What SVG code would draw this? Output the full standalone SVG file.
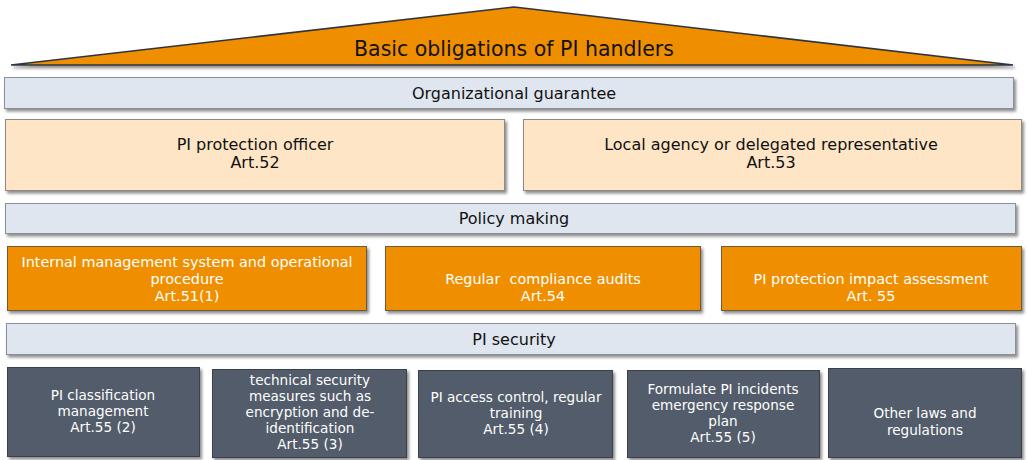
<svg xmlns="http://www.w3.org/2000/svg" width="1027" height="460" viewBox="0 0 1027 460">
  <defs>
    <filter id="shadow" x="-5%" y="-20%" width="110%" height="150%">
      <feDropShadow dx="2" dy="2.5" stdDeviation="1.5" flood-color="#000" flood-opacity="0.45"/>
    </filter>
  </defs>
  <style>
    text { font-family: "DejaVu Sans", "Liberation Sans", sans-serif; text-anchor: middle; }
    .roof { fill: #EF8F00; stroke: #2E3440; stroke-width: 1.6; filter: url(#shadow); }
    .bar { fill: #DFE6F0; stroke: #8A9098; stroke-width: 1; filter: url(#shadow); }
    .peach { fill: #FDE5C6; stroke: #8F8A80; stroke-width: 1; filter: url(#shadow); }
    .orange { fill: #EF8F00; stroke: #6B5A40; stroke-width: 1; filter: url(#shadow); }
    .slate { fill: #525C6B; stroke: #3A414B; stroke-width: 1; filter: url(#shadow); }
    .title { font-size: 20.5px; fill: #111; }
    .head { font-size: 16px; fill: #111; }
    .dark { font-size: 16px; fill: #111; }
    .light { font-size: 14.4px; fill: #fff; }
    .small { font-size: 13.6px; fill: #fff; }
  </style>

  <!-- roof -->
  <g id="roof">
    <polygon class="roof" points="11,65 514,7 1013,65"/>
    <text class="title" x="514" y="56">Basic obligations of PI handlers</text>
  </g>

  <!-- organizational guarantee -->
  <g id="org-guarantee">
    <rect class="bar" x="4.5" y="77.5" width="1009" height="31"/>
    <text class="head" x="514" y="99">Organizational guarantee</text>
  </g>
  <g id="officer">
    <rect class="peach" x="5.5" y="119.5" width="499" height="71"/>
    <text class="dark" x="255" y="150">PI protection officer</text>
    <text class="dark" x="255" y="168">Art.52</text>
  </g>
  <g id="local-agency">
    <rect class="peach" x="523.5" y="119.5" width="498" height="71"/>
    <text class="dark" x="771" y="150">Local agency or delegated representative</text>
    <text class="dark" x="771" y="168">Art.53</text>
  </g>

  <!-- policy making -->
  <g id="policy-making">
    <rect class="bar" x="5.5" y="203.5" width="1010" height="30"/>
    <text class="head" x="514" y="224">Policy making</text>
  </g>
  <g id="internal-management">
    <rect class="orange" x="7.5" y="246.5" width="359" height="64"/>
    <text class="light" x="187" y="267">Internal management system and operational</text>
    <text class="light" x="187" y="284">procedure</text>
    <text class="light" x="187" y="301">Art.51(1)</text>
  </g>
  <g id="compliance-audits">
    <rect class="orange" x="385.5" y="246.5" width="315" height="64"/>
    <text class="light" x="543" y="284" xml:space="preserve">Regular  compliance audits</text>
    <text class="light" x="543" y="301">Art.54</text>
  </g>
  <g id="impact-assessment">
    <rect class="orange" x="721.5" y="246.5" width="300" height="64"/>
    <text class="light" x="871" y="284">PI protection impact assessment</text>
    <text class="light" x="871" y="301">Art. 55</text>
  </g>

  <!-- PI security -->
  <g id="pi-security">
    <rect class="bar" x="6.5" y="323.5" width="1009" height="31"/>
    <text class="head" x="514" y="345">PI security</text>
  </g>
  <g id="classification">
    <rect class="slate" x="7.5" y="367.5" width="192" height="89"/>
    <text class="small" x="103" y="400">PI classification</text>
    <text class="small" x="103" y="416">management</text>
    <text class="small" x="103" y="432">Art.55 (2)</text>
  </g>
  <g id="technical-measures">
    <rect class="slate" x="212.5" y="369.5" width="194" height="88"/>
    <text class="small" x="310" y="385">technical security</text>
    <text class="small" x="310" y="401">measures such as</text>
    <text class="small" x="310" y="417">encryption and de-</text>
    <text class="small" x="310" y="433">identification</text>
    <text class="small" x="310" y="449">Art.55 (3)</text>
  </g>
  <g id="access-control">
    <rect class="slate" x="418.5" y="370.5" width="194" height="87"/>
    <text class="small" x="516" y="402">PI access control, regular</text>
    <text class="small" x="516" y="418">training</text>
    <text class="small" x="516" y="434">Art.55 (4)</text>
  </g>
  <g id="emergency-plan">
    <rect class="slate" x="627.5" y="370.5" width="192" height="87"/>
    <text class="small" x="723" y="394">Formulate PI incidents</text>
    <text class="small" x="723" y="410">emergency response</text>
    <text class="small" x="723" y="426">plan</text>
    <text class="small" x="723" y="442">Art.55 (5)</text>
  </g>
  <g id="other-laws">
    <rect class="slate" x="828.5" y="368.5" width="193" height="89"/>
    <text class="small" x="925" y="418">Other laws and</text>
    <text class="small" x="925" y="435">regulations</text>
  </g>
</svg>
